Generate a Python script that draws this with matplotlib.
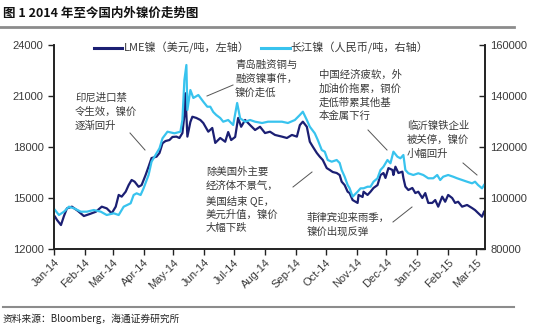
import matplotlib
matplotlib.use('Agg')
import matplotlib.pyplot as plt
import matplotlib.dates as mdates
import pandas as pd

plt.rcParams['font.family'] = ['Liberation Sans', 'Noto Sans CJK SC', 'DejaVu Sans']
CJK = ['Noto Sans CJK SC', 'DejaVu Sans']

NAVY = '#1b1f73'
CYAN = '#38c3ee'
GREY_TXT = '#3a3a3a'

# LME nickel, USD/t (left axis)
lme_dates = [
    '2014-01-02', '2014-01-04', '2014-01-08', '2014-01-11', '2014-01-14', '2014-01-19',
    '2014-01-25', '2014-01-31', '2014-02-06', '2014-02-12', '2014-02-18', '2014-02-23',
    '2014-02-28', '2014-03-04', '2014-03-07', '2014-03-10', '2014-03-14', '2014-03-17',
    '2014-03-20', '2014-03-23', '2014-03-27', '2014-03-30', '2014-04-03', '2014-04-06',
    '2014-04-09', '2014-04-14', '2014-04-17', '2014-04-20', '2014-04-23', '2014-04-27',
    '2014-04-30', '2014-05-04', '2014-05-07', '2014-05-10', '2014-05-12', '2014-05-13',
    '2014-05-15', '2014-05-18', '2014-05-20', '2014-05-24', '2014-05-28', '2014-05-31',
    '2014-06-05', '2014-06-09', '2014-06-12', '2014-06-17', '2014-06-22', '2014-06-25',
    '2014-06-28', '2014-07-02', '2014-07-05', '2014-07-08', '2014-07-12', '2014-07-17',
    '2014-07-22', '2014-07-27', '2014-08-01', '2014-08-06', '2014-08-11', '2014-08-18',
    '2014-08-23', '2014-08-28', '2014-09-02', '2014-09-05', '2014-09-08', '2014-09-12',
    '2014-09-15', '2014-09-18', '2014-09-22', '2014-09-25', '2014-09-28', '2014-10-02',
    '2014-10-05', '2014-10-08', '2014-10-12', '2014-10-15', '2014-10-17', '2014-10-20',
    '2014-10-23', '2014-10-25', '2014-10-28', '2014-11-02', '2014-11-03', '2014-11-07',
    '2014-11-08', '2014-11-12', '2014-11-15', '2014-11-18', '2014-11-22', '2014-11-25',
    '2014-11-28', '2014-11-30', '2014-12-03', '2014-12-07', '2014-12-08', '2014-12-10',
    '2014-12-13', '2014-12-17', '2014-12-18', '2014-12-20', '2014-12-23', '2014-12-27',
    '2014-12-30', '2015-01-02', '2015-01-06', '2015-01-09', '2015-01-12', '2015-01-16',
    '2015-01-19', '2015-01-22', '2015-01-26', '2015-01-29', '2015-02-01', '2015-02-05',
    '2015-02-08', '2015-02-11', '2015-02-15', '2015-02-20', '2015-02-25', '2015-02-28',
    '2015-03-03', '2015-03-07', '2015-03-09',
]
lme_price = [
    13900, 13710, 13410, 13940, 14390, 14490,
    14240, 13940, 14060, 14190, 14490, 14390,
    14100, 14490, 15180, 15080, 15370, 15760,
    16060, 15960, 15660, 15760, 16350, 16840,
    17350, 17430, 17650, 18220, 18350, 18410,
    18590, 18610, 18530, 18820, 19880, 21160,
    18610, 19470, 19780, 19710, 19590, 19410,
    18900, 19120, 18240, 18530, 18310, 18880,
    18410, 18590, 19710, 19190, 19590, 19290,
    19000, 19190, 18820, 18900, 18710, 18610,
    18530, 18710, 18610, 19290, 19490, 19190,
    18310, 18020, 17650, 17430, 17240, 16760,
    16650, 16530, 16470, 16350, 15960, 15760,
    15370, 15290, 14880, 14710, 15180, 15060,
    15370, 15180, 15370, 15590, 15760, 16350,
    16470, 16180, 16760, 16650, 16350, 16840,
    16470, 16550, 16180, 15670, 15470, 15590,
    15290, 15370, 15000, 15290, 14710, 14710,
    14880, 14490, 15080, 14780, 15180, 15000,
    14710, 14780, 14490, 14590, 14410, 14290,
    14120, 13900, 14190,
]

# Changjiang nickel, CNY/t (right axis)
cj_dates = [
    '2014-01-02', '2014-01-06', '2014-01-11', '2014-01-16', '2014-01-21', '2014-01-28',
    '2014-02-03', '2014-02-10', '2014-02-17', '2014-02-23', '2014-03-02', '2014-03-07',
    '2014-03-12', '2014-03-19', '2014-03-22', '2014-03-25', '2014-03-29', '2014-04-01',
    '2014-04-06', '2014-04-09', '2014-04-14', '2014-04-17', '2014-04-20', '2014-04-25',
    '2014-05-02', '2014-05-08', '2014-05-10', '2014-05-12', '2014-05-14', '2014-05-15',
    '2014-05-18', '2014-05-21', '2014-05-26', '2014-05-31', '2014-06-04', '2014-06-07',
    '2014-06-10', '2014-06-13', '2014-06-17', '2014-06-20', '2014-06-25', '2014-06-30',
    '2014-07-04', '2014-07-07', '2014-07-12', '2014-07-17', '2014-07-22', '2014-07-29',
    '2014-08-04', '2014-08-11', '2014-08-18', '2014-08-24', '2014-08-31', '2014-09-05',
    '2014-09-08', '2014-09-12', '2014-09-15', '2014-09-20', '2014-09-23', '2014-09-27',
    '2014-09-30', '2014-10-03', '2014-10-07', '2014-10-12', '2014-10-15', '2014-10-17',
    '2014-10-20', '2014-10-23', '2014-10-25', '2014-10-28', '2014-11-02', '2014-11-05',
    '2014-11-08', '2014-11-12', '2014-11-15', '2014-11-18', '2014-11-22', '2014-11-25',
    '2014-11-28', '2014-12-02', '2014-12-05', '2014-12-08', '2014-12-12', '2014-12-15',
    '2014-12-18', '2014-12-20', '2014-12-23', '2014-12-28', '2015-01-02', '2015-01-07',
    '2015-01-12', '2015-01-17', '2015-01-21', '2015-01-24', '2015-01-27', '2015-02-01',
    '2015-02-06', '2015-02-10', '2015-02-15', '2015-02-20', '2015-02-25', '2015-02-28',
    '2015-03-03', '2015-03-07', '2015-03-09',
]
cj_price = [
    95290, 93330, 94630, 96590, 95960, 94630,
    94630, 95290, 94630, 93330, 94000, 93330,
    96590, 97920, 101180, 101840, 101180, 103800,
    109020, 114240, 117530, 119490, 123410, 126000,
    125370, 126000, 130590, 146270, 152160, 134510,
    142350, 139220, 140390, 137760, 135800, 135800,
    133730, 132550, 131370, 129920, 130590, 128630,
    137250, 131250, 129920, 130590, 129920, 129410,
    129920, 129920, 129920, 129410, 130590, 132550,
    133840, 130590, 127960, 125370, 122750, 118820,
    118160, 114900, 114240, 114900, 113730, 110980,
    108350, 105100, 103800, 100510, 102470, 103800,
    103800, 104430, 104430, 106390, 107730, 110980,
    112270, 114900, 113610, 118160, 116200, 115570,
    116860, 110980, 109690, 109020, 109690, 109020,
    107730, 107730, 109020, 107060, 108350, 109020,
    108350, 107730, 107060, 106390, 105760, 106390,
    105100, 103800, 105100,
]

legend_labels = ['LME镍（美元/吨，左轴）', '长江镍（人民币/吨，右轴）']

notes = [
    '印尼进口禁\n令生效，镍价\n逐渐回升',
    '青岛融资铜与\n融资镍事件，\n镍价走低',
    '中国经济疲软，外\n加油价拖累，铜价\n走低带累其他基\n本金属下行',
    '临沂镍铁企业\n被关停，镍价\n小幅回升',
    '除美国外主要\n经济体不景气，\n美国结束 QE，\n美元升值，镍价\n大幅下跌',
    '菲律宾迎来雨季，\n镍价出现反弹',
]
# text top-left and pointer segments, in image pixels
note_pos = [(75, 93), (235, 60), (319, 70), (407, 121), (206, 167), (307, 213)]
note_lines = [
    ((130, 133), (145, 150)),
    ((207, 96), (233, 85)),
    ((368, 130), (387, 150)),
    ((463, 163), (477, 175)),
    ((293, 187), (312, 172)),
    ((393, 222), (412, 207)),
]

W, H = 550, 329


def fpos(x, y):
    return x / W, 1 - y / H


fig = plt.figure(figsize=(5.5, 3.29), dpi=100)
ax = fig.add_axes([54 / W, 1 - 249 / H, (485 - 54) / W, (249 - 45) / H])
ax2 = ax.twinx()

l1, = ax.plot(pd.to_datetime(lme_dates), lme_price, color=NAVY, lw=1.6)
l2, = ax2.plot(pd.to_datetime(cj_dates), cj_price, color=CYAN, lw=1.6)

ax.set_ylim(12000, 24000)
ax.set_yticks(range(12000, 24001, 3000))
ax2.set_ylim(80000, 160000)
ax2.set_yticks(range(80000, 160001, 20000))
ax.set_xlim(pd.Timestamp('2014-01-01'), pd.Timestamp('2015-03-10'))

ax.xaxis.set_major_locator(mdates.MonthLocator())
ax.xaxis.set_major_formatter(mdates.DateFormatter('%b-%y'))
for lab in ax.get_xticklabels():
    lab.set_rotation(45)
    lab.set_ha('right')
    lab.set_rotation_mode('anchor')

for a in (ax, ax2):
    a.spines['top'].set_visible(False)
    for s in a.spines.values():
        s.set_color('#222222')
        s.set_linewidth(1.2)
ax.tick_params(axis='both', labelsize=8, labelcolor=GREY_TXT, length=4, width=1, color='#222222')
ax2.tick_params(axis='y', direction='in', labelsize=8, labelcolor=GREY_TXT, length=4, width=1,
                color='#222222', pad=4)
ax.tick_params(axis='x', pad=2)

leg = fig.legend([l1, l2], legend_labels, loc='center', bbox_to_anchor=fpos(261, 48),
                 ncol=2, frameon=False, handlelength=2.6, columnspacing=1.0,
                 handletextpad=0.1, prop={'family': CJK, 'size': 8})
for t in leg.get_texts():
    t.set_color(GREY_TXT)
for h in leg.legend_handles:
    h.set_linewidth(2.2)

for txt, (x, y) in zip(notes, note_pos):
    fig.text(*fpos(x, y), txt, family=CJK, fontsize=7.5, color=GREY_TXT,
             va='top', ha='left', linespacing=1.45)
for (p0, p1) in note_lines:
    fig.add_artist(plt.Line2D([p0[0] / W, p1[0] / W], [1 - p0[1] / H, 1 - p1[1] / H],
                              color='#555555', lw=0.7))

fig.text(*fpos(3, 13), '图 1 2014 年至今国内外镍价走势图', family=CJK, fontsize=9,
         fontweight='bold', va='center', ha='left', color='#111111')
fig.add_artist(plt.Line2D([0.0, 0.935], [1 - 27 / H] * 2, color='#8c8c8c', lw=2))
fig.add_artist(plt.Line2D([0.005, 0.935], [1 - 307 / H] * 2, color='#8c8c8c', lw=1.5))
fig.text(*fpos(3, 319), '资料来源：Bloomberg，海通证券研究所', family=CJK, fontsize=7,
         va='center', ha='left', color='#222222')

fig.savefig('out.png', dpi=100)
